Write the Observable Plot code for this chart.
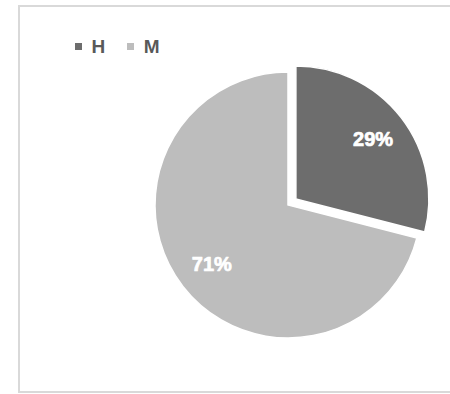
<!DOCTYPE html>
<html><head><meta charset="utf-8">
<script src="https://cdn.jsdelivr.net/npm/d3@7"></script>
<script src="https://cdn.jsdelivr.net/npm/@observablehq/plot@0.6"></script>
<style>
html,body{margin:0;padding:0;background:#fff;overflow:hidden;width:450px;height:394px}
#wrap{position:relative;width:450px;height:394px}
#frame{position:absolute;left:18px;top:5px;width:520px;height:388px;border:2px solid #d9d9d9;box-sizing:border-box;pointer-events:none}
#legend{position:absolute;left:75px;top:30px}
#legend div, #legend span{font-size:19px !important;font-family:"Liberation Sans",sans-serif !important;color:#595959 !important;font-weight:bold !important}
#legend span{margin-right:22px !important}
</style></head>
<body><div id="wrap"><div id="legend"></div><div id="frame"></div></div>
<script>
const cats = ["H", "M"];
const values = [29, 71];
const labels = ["29%", "71%"];
const colors = ["#6d6d6d", "#bdbdbd"];
const explode = [0.075, 0];

const pie = d3.pie().sort(null).value(d => d)(values);
const rows = cats.map((c, i) => {
  const a0 = pie[i].startAngle, a1 = pie[i].endAngle, mid = (a0 + a1) / 2;
  const dx = explode[i] * Math.sin(mid), dy = explode[i] * Math.cos(mid);
  return {cat: c, value: values[i], label: labels[i], a0, a1, dx, dy,
          lx: dx + 0.73 * Math.sin(mid), ly: dy + 0.73 * Math.cos(mid)};
});

function slices(index, scales) {
  const {x, y, color} = scales;
  const r = x(1) - x(0);
  const arc = d3.arc().innerRadius(0).outerRadius(r);
  const g = d3.create("svg:g");
  g.selectAll("path").data(rows).join("path")
    .attr("transform", d => `translate(${x(d.dx)},${y(d.dy)})`)
    .attr("d", d => arc({startAngle: d.a0, endAngle: d.a1}))
    .attr("fill", d => color(d.cat))
    .attr("stroke", "#fff")
    .attr("stroke-width", 1.5);
  return g.node();
}

const chart = Plot.plot({
  width: 450,
  height: 394,
  marginLeft: 155,
  marginRight: 29,
  marginTop: 72,
  marginBottom: 56,
  style: {fontFamily: "Liberation Sans", background: "transparent"},
  x: {domain: [-1, 1], axis: null},
  y: {domain: [-1, 1], axis: null},
  color: {domain: cats, range: colors},
  marks: [
    slices,
    Plot.text(rows, {x: "lx", y: "ly", text: "label", fill: "#fff", stroke: "#fff", strokeWidth: 0.7,
      fontWeight: "bold", fontSize: 20})
  ]
});
document.getElementById("wrap").prepend(chart);

const leg = chart.legend("color", {legend: "swatches", swatchSize: 7});
document.getElementById("legend").append(leg);
</script>
</body></html>
